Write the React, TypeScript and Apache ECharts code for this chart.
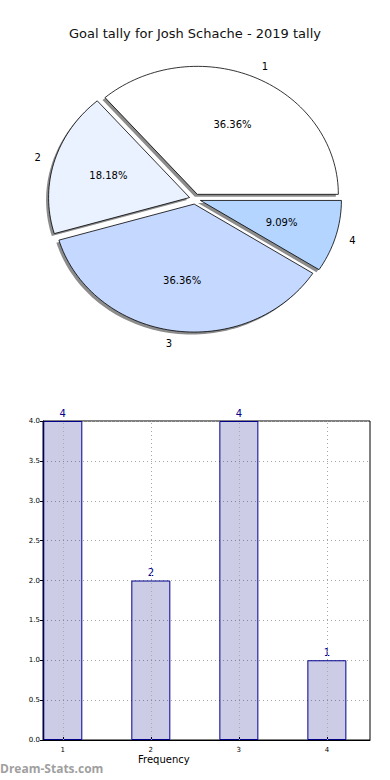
import React, { useEffect, useRef } from "react";
import * as echarts from "echarts";

const titleText = "Goal tally for Josh Schache - 2019 tally";
const pieLabels = ["1", "2", "3", "4"];
const pieValues = [4, 2, 4, 1];
const pieColors = ["#ffffff", "#eaf1ff", "#c5d8ff", "#b3d5ff"];
const barCategories = [1, 2, 3, 4];
const barValues = [4, 2, 4, 1];

const FONT = "DejaVu Sans";
const CX = 195;
const CY = 199;
const RX = 141;
const RY = 128;
const EXPLODE = 0.04;
const SHADOW_DX = -2.5;
const SHADOW_DY = 2.5;

function sliceGeom(i: number) {
  const total = pieValues.reduce((a, b) => a + b, 0);
  let start = 0;
  for (let k = 0; k < i; k++) start += pieValues[k];
  const a1 = (start / total) * Math.PI * 2;
  const a2 = ((start + pieValues[i]) / total) * Math.PI * 2;
  const mid = (a1 + a2) / 2;
  const vx = CX + EXPLODE * RX * Math.cos(mid);
  const vy = CY - EXPLODE * RY * Math.sin(mid);
  const pts: number[][] = [[vx, vy]];
  const n = Math.max(8, Math.ceil(((a2 - a1) / (Math.PI * 2)) * 200));
  for (let s = 0; s <= n; s++) {
    const a = a1 + ((a2 - a1) * s) / n;
    pts.push([vx + RX * Math.cos(a), vy - RY * Math.sin(a)]);
  }
  return { a1, a2, mid, vx, vy, pts, pct: (pieValues[i] / total) * 100 };
}

export default function App() {
  const ref = useRef<HTMLDivElement>(null);
  useEffect(() => {
    if (!ref.current) return;
    const chart = echarts.init(ref.current, null, { renderer: "svg" });
    const option: any = {
      animation: false,
      backgroundColor: "#ffffff",
      title: {
        text: titleText,
        left: "center",
        top: 22,
        textStyle: { fontFamily: FONT, fontSize: 13, fontWeight: "normal", color: "#111111" },
      },
      grid: {
        left: 43,
        top: 421,
        right: 20,
        bottom: 40,
        show: true,
        borderColor: "#000000",
        borderWidth: 1,
        backgroundColor: "transparent",
      },
      xAxis: {
        type: "value",
        min: 0.775,
        max: 4.49,
        splitLine: { show: false },
        axisLine: { show: true, lineStyle: { color: "#000000" } },
        axisTick: { show: true, customValues: barCategories, length: 3, inside: true, lineStyle: { color: "#000000" } },
        axisLabel: {
          customValues: barCategories,
          fontFamily: FONT,
          fontSize: 7,
          color: "#000000",
          margin: 6,
        },
      },
      yAxis: {
        type: "value",
        min: 0,
        max: 4,
        interval: 0.5,
        axisLine: { show: true, lineStyle: { color: "#000000" } },
        axisTick: { show: true, length: 3, lineStyle: { color: "#000000" } },
        axisLabel: {
          fontFamily: FONT,
          fontSize: 7,
          color: "#000000",
          margin: 3,
          formatter: (v: number) => v.toFixed(1),
        },
        splitLine: { show: true, lineStyle: { color: "#a8a8a8", type: [1, 3], width: 1 } },
      },
      series: [
        {
          type: "custom",
          coordinateSystem: "none",
          z: 1,
          silent: true,
          data: pieValues.map((v, i) => [v, i]),
          renderItem: (params: any) => {
            const g = sliceGeom(params.dataIndex);
            return {
              type: "polygon",
              shape: { points: g.pts.map((p) => [p[0] + SHADOW_DX, p[1] + SHADOW_DY]) },
              style: { fill: "#8c8c8c", stroke: "none" },
            };
          },
        },
        {
          type: "custom",
          coordinateSystem: "none",
          z: 2,
          silent: true,
          data: pieValues.map((v, i) => [v, i]),
          renderItem: (params: any) => {
            const i = params.dataIndex;
            const g = sliceGeom(i);
            const px = g.vx + 0.6 * RX * Math.cos(g.mid);
            const py = g.vy - 0.6 * RY * Math.sin(g.mid);
            const lx = g.vx + 1.1 * RX * Math.cos(g.mid);
            const ly = g.vy - 1.1 * RY * Math.sin(g.mid);
            return {
              type: "group",
              children: [
                {
                  type: "polygon",
                  shape: { points: g.pts },
                  style: { fill: pieColors[i], stroke: "#000000", lineWidth: 0.8 },
                },
                {
                  type: "text",
                  style: {
                    text: g.pct.toFixed(2) + "%",
                    x: px,
                    y: py,
                    align: "center",
                    verticalAlign: "middle",
                    fontFamily: FONT,
                    fontSize: 10,
                    fill: "#000000",
                  },
                },
                {
                  type: "text",
                  style: {
                    text: pieLabels[i],
                    x: lx,
                    y: ly,
                    align: Math.cos(g.mid) >= 0 ? "left" : "right",
                    verticalAlign: "middle",
                    fontFamily: FONT,
                    fontSize: 10,
                    fill: "#000000",
                  },
                },
              ],
            };
          },
        },
        {
          type: "bar",
          z: 3,
          data: barCategories.map((c, i) => [c, barValues[i]]),
          barWidth: 39,
          itemStyle: {
            color: "rgba(0,0,128,0.2)",
            borderColor: "#00008b",
            borderWidth: 1,
          },
          label: {
            show: true,
            position: "top",
            distance: 3,
            color: "#00008b",
            fontFamily: FONT,
            fontSize: 10,
            formatter: (p: any) => String(p.value[1]),
          },
          markLine: {
            silent: true,
            symbol: "none",
            label: { show: false },
            lineStyle: { color: "#a8a8a8", type: [1, 3], width: 1 },
            data: barCategories.map((c) => ({ xAxis: c })),
          },
        },
      ],
      graphic: [
        {
          type: "text",
          left: 166 - 28,
          top: 754,
          style: { text: "Frequency", fontFamily: FONT, fontSize: 10, fill: "#000000" },
        },
        {
          type: "text",
          left: 0,
          top: 762,
          style: {
            text: "Dream-Stats.com",
            fontFamily: "Open Sans",
            fontWeight: "bold",
            fontSize: 12,
            fill: "#a0a0a0",
          },
        },
      ],
    };
    chart.setOption(option);
    return () => chart.dispose();
  }, []);
  return (
    <div
      ref={ref}
      style={{ position: "fixed", left: 0, top: 0, width: 390, height: 780 }}
    />
  );
}
